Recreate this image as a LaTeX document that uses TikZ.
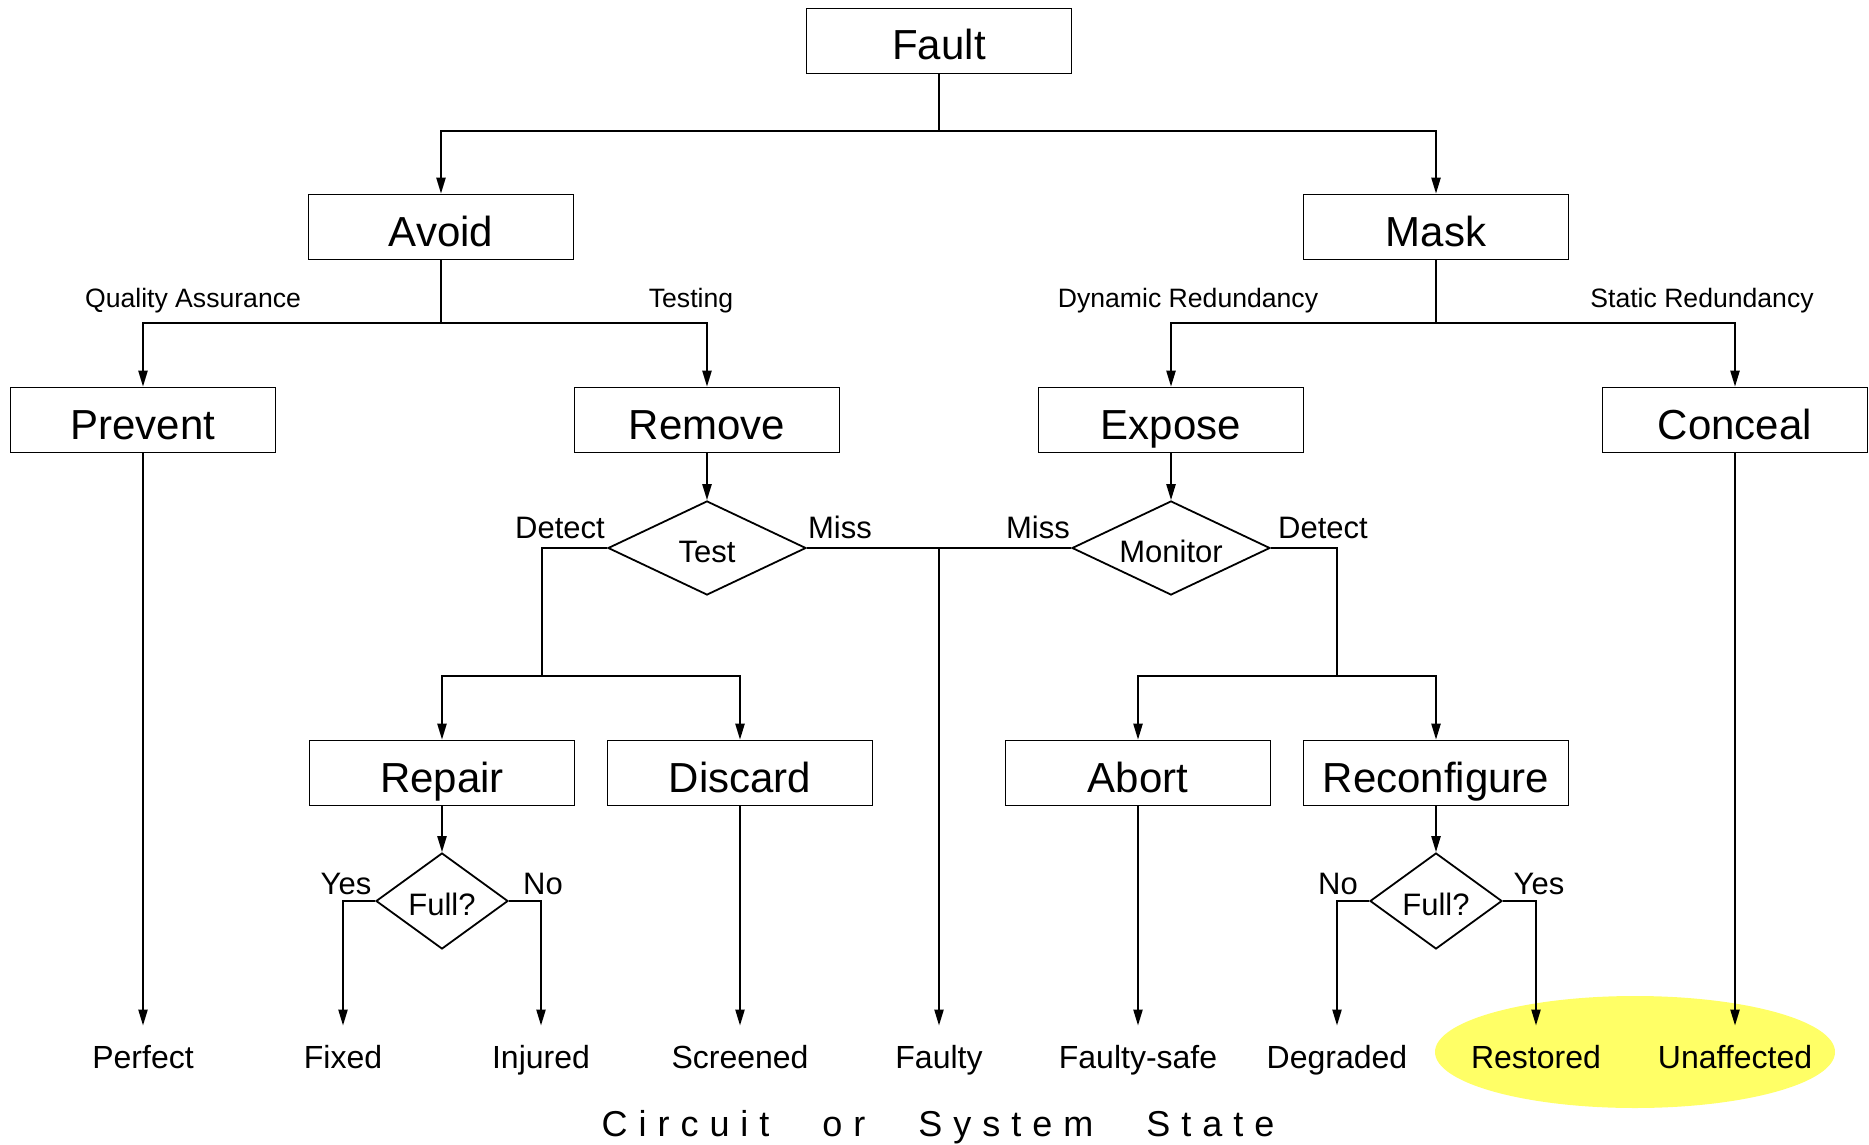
\documentclass[tikz,border=0pt]{standalone}
\usepackage{fontspec}
\setmainfont{Liberation Sans}
\newfontfamily\spacedfont[LetterSpace=30.5]{Liberation Sans}
\usetikzlibrary{shapes.geometric,arrows.meta}
\definecolor{hlyellow}{RGB}{255,255,102}
\begin{document}
\begin{tikzpicture}[x=0.5pt,y=-0.5pt,
  box/.style={draw, line width=0.9pt, minimum width=132.5pt, minimum height=32.5pt,
    inner sep=0pt, font=\fontsize{21}{25}\selectfont, text height=19pt, text depth=0pt},
  dia/.style={draw, diamond, line width=0.9pt, inner sep=0pt,
    font=\fontsize{15.5}{18}\selectfont, text height=14pt, text depth=0pt},
  bigdia/.style={dia, minimum width=99pt, minimum height=47pt, aspect=2.1},
  smalldia/.style={dia, minimum width=66pt, minimum height=48pt, aspect=1.4},
  lblsm/.style={inner sep=0pt, font=\fontsize{13.3}{16}\selectfont, text height=9.5pt, text depth=0pt},
  lblmd/.style={inner sep=0pt, font=\fontsize{15.5}{18}\selectfont, text height=11.1pt, text depth=0pt},
  state/.style={inner sep=0pt, outer ysep=10pt, font=\fontsize{16}{19}\selectfont, text height=11.5pt, text depth=0pt},
  ln/.style={line width=0.9pt},
  arr/.style={line width=0.9pt, -{Triangle[length=8pt,width=4.6pt]}}
]
\useasboundingbox (0,0) rectangle (1869,1145);

% highlight
\node[ellipse, fill=hlyellow, minimum width=200pt, minimum height=56pt, inner sep=0pt] (hl) at (1635,1052) {};

% boxes
\node[box] (fault) at (939,41) {Fault};
\node[box] (avoid) at (441,227) {Avoid};
\node[box] (mask) at (1436,227) {Mask};
\node[box] (prevent) at (143,420) {Prevent};
\node[box] (remove) at (707,420) {Remove};
\node[box] (expose) at (1171,420) {Expose};
\node[box] (conceal) at (1735,420) {Conceal};
\node[bigdia] (test) at (707,548) {Test};
\node[bigdia] (monitor) at (1171,548) {Monitor};
\node[box] (repair) at (442,773) {Repair};
\node[box] (discard) at (740,773) {Discard};
\node[box] (abort) at (1138,773) {Abort};
\node[box] (reconf) at (1436,773) {Reconfigure};
\node[smalldia] (full1) at (442,901) {Full?};
\node[smalldia] (full2) at (1436,901) {Full?};

% states
\node[state] (perfect) at (143,1057) {Perfect};
\node[state] (fixed) at (343,1057) {Fixed};
\node[state] (injured) at (541,1057) {Injured};
\node[state] (screened) at (740,1057) {Screened};
\node[state] (faulty) at (939,1057) {Faulty};
\node[state] (faultysafe) at (1138,1057) {Faulty-safe};
\node[state] (degraded) at (1337,1057) {Degraded};
\node[state] (restored) at (1536,1057) {Restored};
\node[state] (unaffected) at (1735,1057) {Unaffected};

% labels
\node[lblsm] (lqa) at (193,298) {Quality Assurance};
\node[lblsm] (ltest) at (691,298) {Testing};
\node[lblsm] (ldyn) at (1188,298) {Dynamic Redundancy};
\node[lblsm] (lstat) at (1702,298) {Static Redundancy};
\node[lblmd] (ldet1) at (560,527) {Detect};
\node[lblmd] (lmiss1) at (840,527) {Miss};
\node[lblmd] (lmiss2) at (1038,527) {Miss};
\node[lblmd] (ldet2) at (1323,527) {Detect};
\node[lblmd] (lyes1) at (346,883) {Yes};
\node[lblmd] (lno1) at (543,883) {No};
\node[lblmd] (lno2) at (1338,883) {No};
\node[lblmd] (lyes2) at (1539,883) {Yes};

\node[inner sep=0pt, font=\fontsize{18}{22}\spacedfont, text height=12.9pt, text depth=0pt] (title) at (938,1124)
  {Circuit\hspace{16pt} or\hspace{16pt} System\hspace{16pt} State};

% connectors
\coordinate (fj) at (939,131);
\draw[ln] (fault.south) -- (fj);
\draw[arr] (fj) -| (avoid.north);
\draw[arr] (fj) -| (mask.north);

\coordinate (aj) at (441,323);
\draw[ln] (avoid.south) -- (aj);
\draw[arr] (aj) -| (prevent.north);
\draw[arr] (aj) -| (remove.north);

\coordinate (mj0) at (1436,323);
\draw[ln] (mask.south) -- (mj0);
\draw[arr] (mj0) -| (expose.north);
\draw[arr] (mj0) -| (conceal.north);

\draw[arr] (remove.south) -- (test.north);
\draw[arr] (expose.south) -- (monitor.north);

\coordinate (tj) at (542,676);
\draw[ln] (test.west) -| (tj);
\draw[arr] (tj) -| (repair.north);
\draw[arr] (tj) -| (discard.north);

\draw[ln] (test.east) -- (monitor.west);
\coordinate (fy) at (939,548);
\draw[arr] (fy) -- (faulty.north);

\coordinate (mj) at (1337,676);
\draw[ln] (monitor.east) -| (mj);
\draw[arr] (mj) -| (abort.north);
\draw[arr] (mj) -| (reconf.north);

\draw[arr] (repair.south) -- (full1.north);
\draw[arr] (full1.west) -| (fixed.north);
\draw[arr] (full1.east) -| (injured.north);
\draw[arr] (discard.south) -- (screened.north);
\draw[arr] (abort.south) -- (faultysafe.north);
\draw[arr] (reconf.south) -- (full2.north);
\draw[arr] (full2.west) -| (degraded.north);
\draw[arr] (full2.east) -| (restored.north);
\draw[arr] (prevent.south) -- (perfect.north);
\draw[arr] (conceal.south) -- (unaffected.north);
\end{tikzpicture}
\end{document}
